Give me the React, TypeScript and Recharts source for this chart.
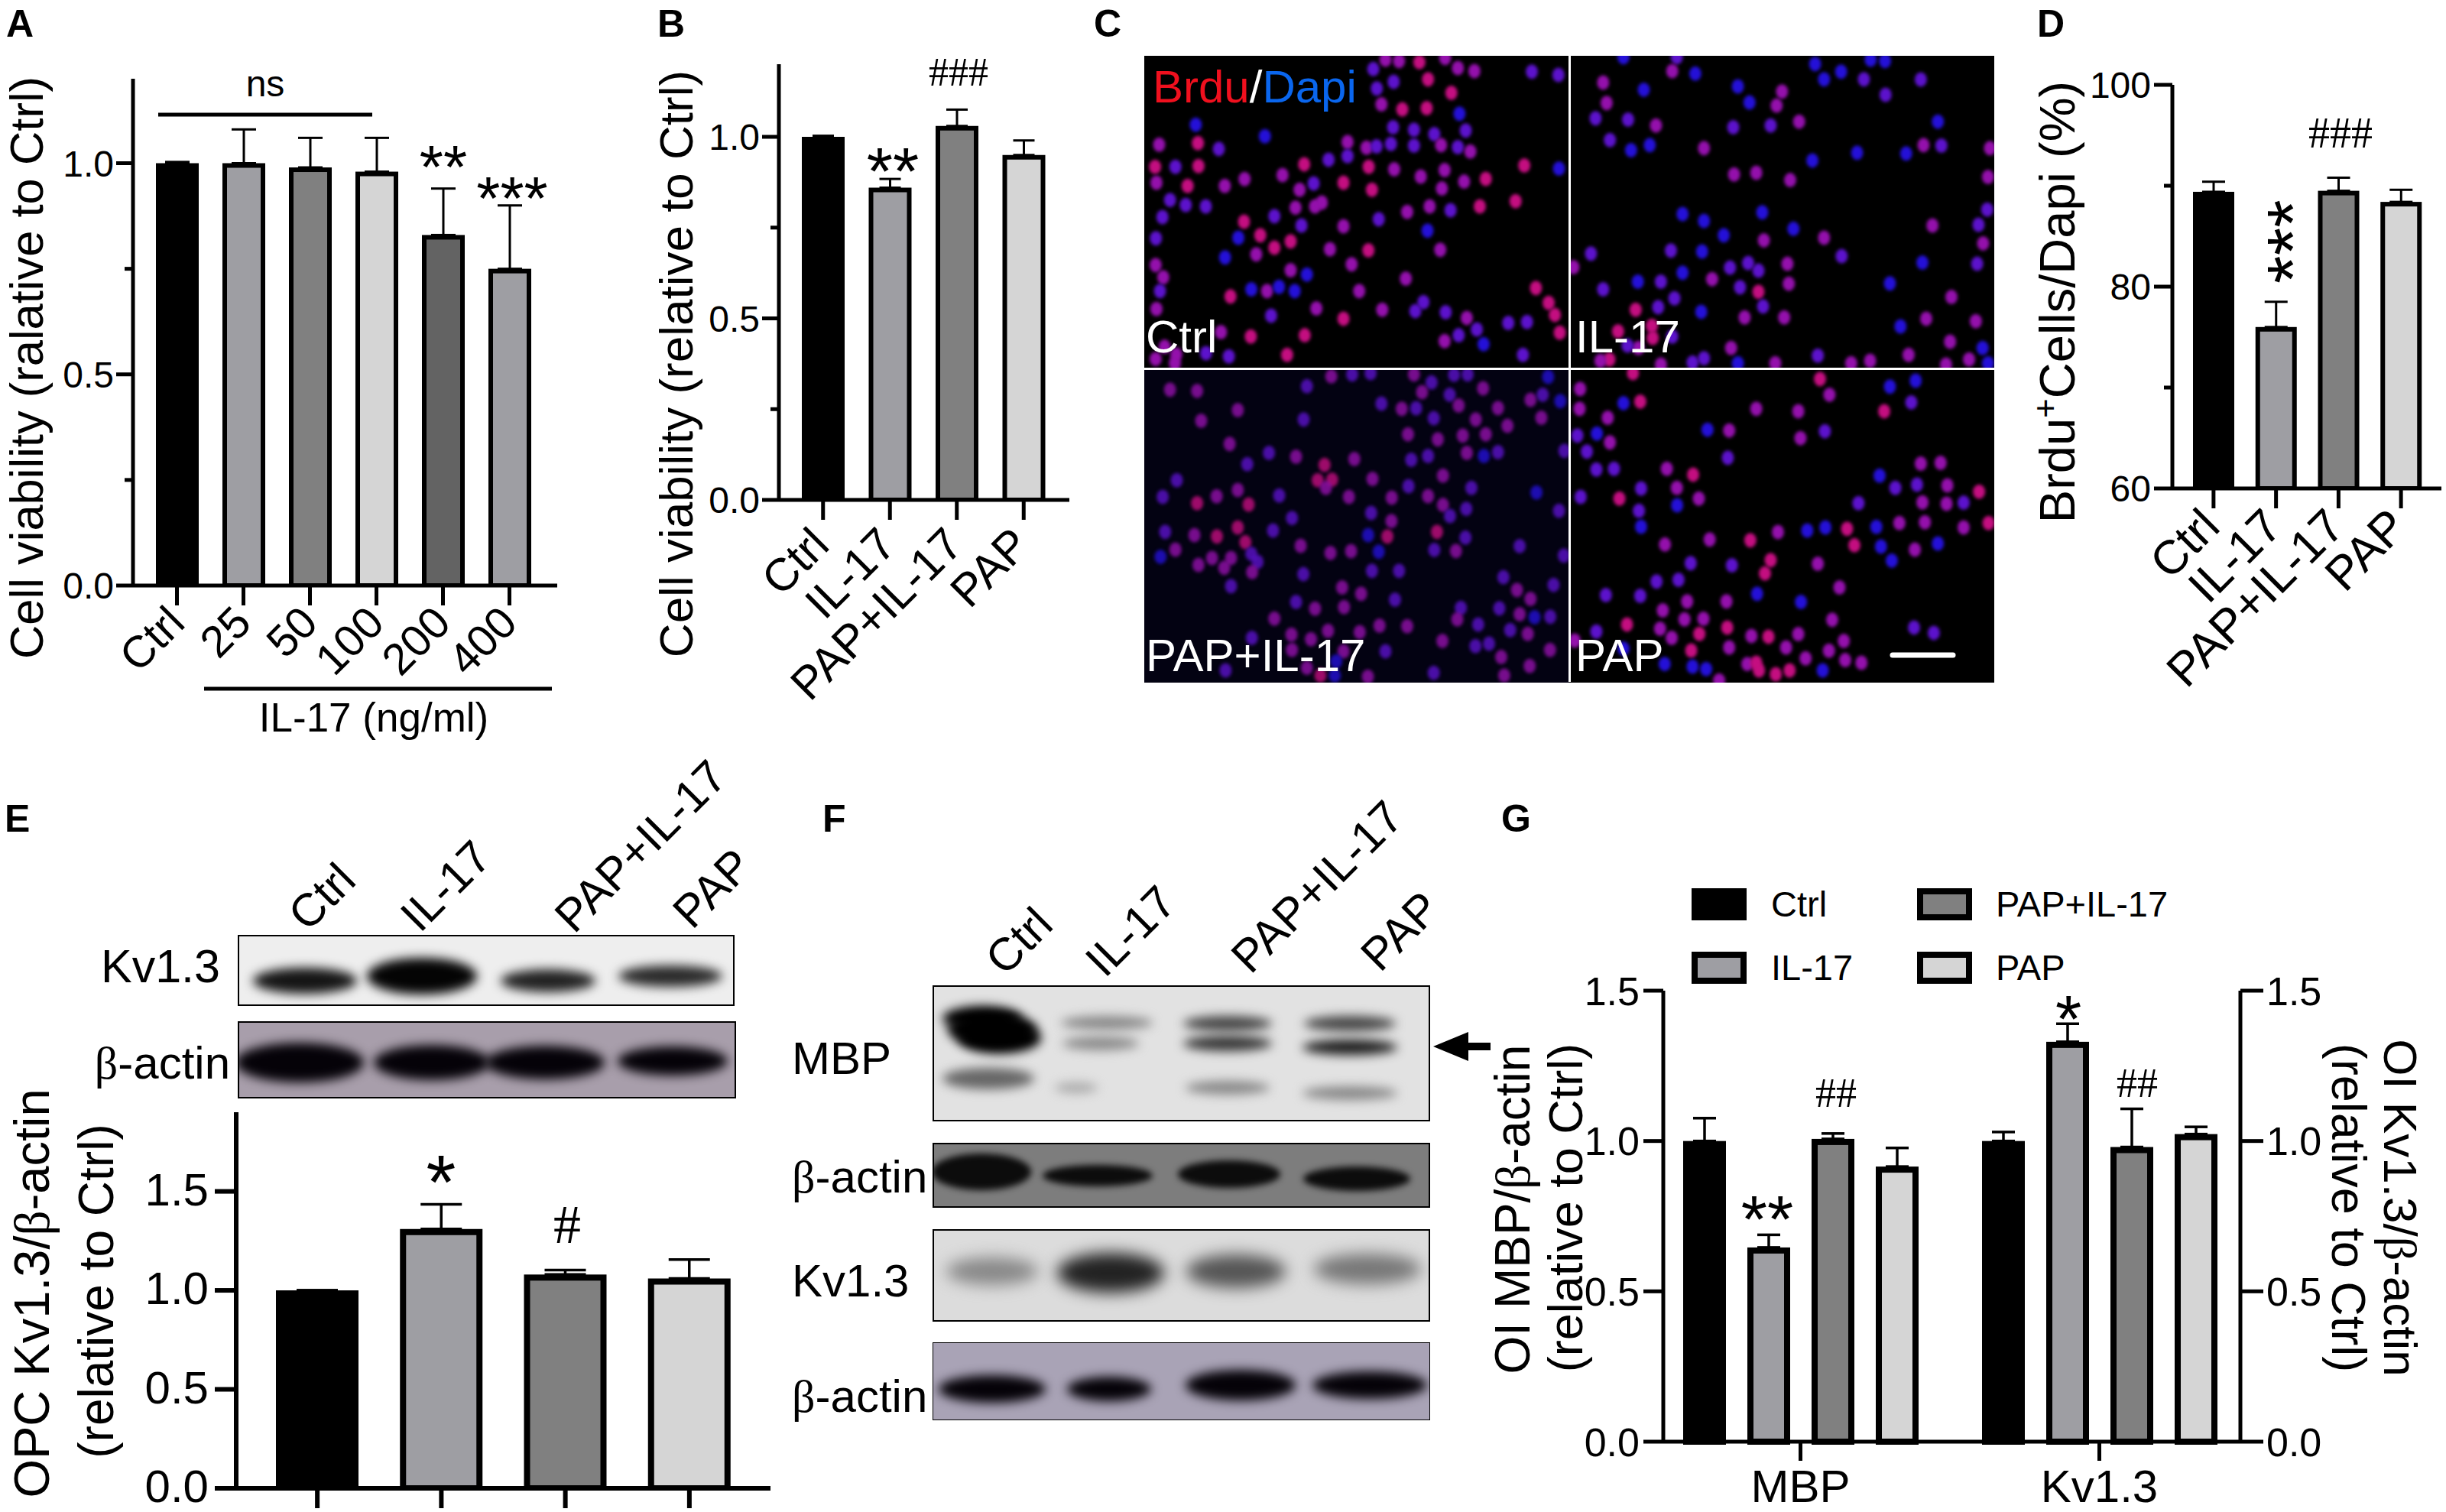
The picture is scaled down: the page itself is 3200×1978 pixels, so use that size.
import React from 'react';
import { BarChart, Bar, Cell, ErrorBar, XAxis, YAxis, ScatterChart, Scatter, ComposedChart, Line } from 'recharts';

const SANS = '"Liberation Sans", Arial, sans-serif';
const SERIF = '"Liberation Serif", "Times New Roman", serif';

// ---------- data ----------
const GROUP_NAMES = ['Ctrl', 'IL-17', 'PAP+IL-17', 'PAP'];
const DOSE_NAMES = ['Ctrl', '25', '50', '100', '200', '400'];

const A_VALUES = [1.0, 1.0, 0.99, 0.98, 0.83, 0.75];
const A_ERRORS = [0.003, 0.08, 0.07, 0.08, 0.11, 0.15];
const B_VALUES = [1.0, 0.86, 1.03, 0.95];
const B_ERRORS = [0.003, 0.024, 0.045, 0.04];
const D_VALUES = [89.4, 76, 89.5, 88.4];
const D_ERRORS = [1.0, 2.5, 1.3, 1.2];
const E_VALUES = [1.0, 1.31, 1.08, 1.06];
const E_ERRORS = [0, 0.125, 0.023, 0.096];
const G_CATEGORIES = ['MBP', 'Kv1.3'];
const G_MBP_VALUES = [1.0, 0.646, 1.007, 0.915];
const G_MBP_ERRORS = [0.076, 0.042, 0.018, 0.062];
const G_KV_VALUES = [1.0, 1.33, 0.98, 1.023];
const G_KV_ERRORS = [0.03, 0.06, 0.127, 0.024];

const A_TICKS = [0, 0.25, 0.5, 0.75, 1];
const A_MAJOR = [0, 0.5, 1];
const D_TICKS = [60, 70, 80, 90, 100];
const D_MAJOR = [60, 80, 100];
const E_TICKS = [0, 0.5, 1, 1.5];
const G_TICKS = [0, 0.5, 1, 1.5];

const BLACK = '#000000';
const MID = '#9e9ea3';
const DARK = '#808080';
const LIGHT = '#d5d5d5';
const DEEP = '#636363';
const DOSE_FILLS = [BLACK, MID, DARK, LIGHT, DEEP, MID];
const GROUP_FILLS = [BLACK, MID, DARK, LIGHT];

// Nuclei positions as read from each microscopy field, [x, y, tone]
const FIELD_CTRL = [[845,52,2],[890,15,1],[940,20,1],[1015,25,0],[1110,8,1],[1157,48,1],[1218,60,1],[1430,62,2],[1528,75,2],[920,102,2],[1047,92,0],[858,128,2],[1133,145,0],[875,190,1],[952,210,0],[1042,205,0],[1163,227,3],[190,270,3],[445,315,3],[918,280,2],[995,290,2],[1070,307,2],[1186,293,2],[55,348,1],[198,342,0],[275,365,2],[750,338,1],[820,360,1],[857,355,2],[910,345,2],[995,352,2],[1095,350,1],[1157,358,2],[1203,375,1],[750,393,2],[680,407,2],[590,425,0],[40,435,0],[115,435,2],[200,432,0],[828,435,0],[922,445,1],[1108,448,1],[1402,430,0],[1530,442,3],[510,467,1],[370,483,1],[45,497,1],[160,510,0],[297,510,1],[735,497,0],[1020,473,1],[1260,482,0],[1180,493,1],[625,500,2],[573,525,1],[840,525,0],[1098,520,1],[95,565,2],[153,585,2],[227,590,2],[558,595,1],[630,590,1],[655,575,1],[1238,590,0],[1370,570,0],[1053,590,1],[1130,605,2],[970,612,1],[67,632,2],[480,628,2],[368,650,0],[865,640,2],[580,665,2],[735,668,1],[1045,685,3],[43,715,2],[347,713,3],[428,703,0],[540,727,0],[480,752,0],[413,778,1],[685,758,1],[827,762,0],[1092,760,1],[298,790,3],[42,820,1],[765,817,1],[540,840,1],[600,857,3],[70,868,1],[965,873,1],[1445,910,0],[58,922,2],[395,915,3],[453,922,1],[497,905,3],[555,922,3],[793,922,1],[318,943,0],[1030,965,2],[1492,968,0],[45,992,1],[635,990,1],[468,1018,2],[878,995,1],[1000,1000,2],[1112,1005,2],[1515,1015,0],[735,1030,0],[1190,1027,1],[1343,1047,2],[1412,1043,2],[1533,1085,0],[283,1083,1],[393,1100,0],[592,1095,0],[1227,1072,2],[1160,1095,2],[1108,1118,1],[1252,1130,3],[75,1140,1],[118,1170,1],[228,1165,2],[312,1178,2],[527,1172,0],[42,1188,1],[113,1205,1],[1397,1172,2]];
const FIELD_IL17 = [[200,5,3],[397,5,2],[380,60,1],[465,70,3],[907,32,3],[1112,15,3],[1165,20,3],[1003,62,3],[940,92,3],[1087,92,2],[1297,93,2],[125,105,1],[275,133,3],[622,120,3],[785,140,1],[1167,153,2],[138,185,1],[665,183,3],[765,195,1],[97,245,2],[217,250,2],[320,273,1],[605,280,2],[743,273,2],[848,258,1],[1360,258,3],[150,330,2],[297,350,3],[228,370,3],[497,362,1],[1307,350,1],[1373,352,2],[1243,383,3],[1552,362,1],[1062,380,3],[897,410,3],[608,465,1],[690,458,1],[815,487,1],[1545,475,1],[1542,603,2],[712,613,3],[418,620,3],[497,647,3],[1340,665,1],[1510,662,2],[827,678,3],[570,703,3],[940,713,1],[718,723,1],[1527,735,1],[375,763,2],[490,767,3],[80,775,2],[1005,785,2],[1505,815,2],[1303,810,3],[805,815,1],[660,812,2],[593,830,2],[698,842,2],[15,828,1],[418,850,3],[527,875,1],[338,885,2],[253,885,3],[1183,892,3],[810,893,1],[125,915,2],[630,907,2],[698,925,0],[388,950,2],[1410,945,1],[245,995,0],[328,985,2],[715,982,2],[487,1003,3],[647,1025,1],[793,1025,1],[1317,1030,1],[1500,1040,1],[1222,1060,3],[180,1080,0],[305,1058,0],[308,1105,0],[1405,1120,1],[597,1145,1],[1525,1145,3],[917,1175,2],[1252,1172,1],[1475,1190,1],[255,1145,1],[215,1135,2],[380,1100,2],[148,1190,0],[115,1195,1],[455,1202,2],[497,1185,2],[622,1205,3],[760,1205,1],[1040,1205,1],[1110,1195,1],[338,1210,1],[1390,1210,1],[1545,1205,3]];
const FIELD_PAPIL = [[95,80,1],[195,85,1],[600,67,2],[690,28,1],[767,20,2],[835,15,2],[995,20,1],[1060,52,2],[1143,22,2],[1193,20,2],[1250,75,1],[1025,90,1],[1127,100,2],[1425,120,1],[1470,100,2],[1535,125,3],[1490,30,3],[345,160,1],[875,135,2],[950,155,1],[1003,153,2],[1160,142,1],[1305,152,1],[210,202,1],[588,197,2],[1068,192,2],[1223,197,1],[1465,190,1],[1340,222,1],[973,255,1],[1083,275,1],[1175,260,1],[1260,255,1],[315,293,1],[460,328,2],[560,343,1],[1190,328,1],[1253,340,3],[1305,325,2],[1047,340,2],[985,355,2],[775,352,1],[1550,320,2],[380,372,2],[665,375,0],[640,435,0],[693,433,0],[670,465,1],[120,435,2],[842,430,1],[1102,417,1],[975,458,2],[1207,465,2],[345,473,1],[498,495,2],[68,500,2],[267,498,1],[1047,497,1],[1447,483,3],[195,525,0],[755,500,1],[913,503,1],[385,530,0],[1102,532,1],[1188,547,2],[1530,555,2],[837,563,2],[545,583,2],[1128,575,2],[912,595,1],[345,620,0],[475,632,2],[77,637,2],[185,650,1],[268,655,0],[1080,637,0],[826,650,3],[897,655,0],[1185,660,2],[373,678,0],[577,692,1],[1385,693,2],[115,707,1],[687,720,1],[763,713,1],[1070,708,2],[1150,712,1],[60,735,3],[865,715,3],[395,723,2],[418,755,2],[250,740,1],[320,740,1],[1548,730,2],[200,767,1],[295,778,1],[398,795,1],[840,790,2],[940,790,2],[587,803,2],[1325,815,2],[320,850,2],[1510,845,2],[730,855,1],[1375,865,1],[800,880,1],[925,903,2],[560,912,2],[1425,900,1],[630,938,1],[737,932,1],[1168,935,2],[1310,937,2],[1385,960,1],[1440,972,3],[1498,970,2],[480,977,1],[1155,980,1],[1232,1000,2],[868,1005,1],[970,1007,1],[1350,1022,2],[1415,1037,1],[795,1030,1],[678,1025,1],[543,1040,1],[397,1053,2],[615,1058,1],[1100,1065,1],[1272,1075,2],[1222,1085,2],[545,1100,1],[1497,1100,1],[890,1105,2],[735,1105,1],[1317,1128,1],[1422,1163,1],[708,1145,3],[600,1170,1],[650,1200,0],[703,1200,3],[825,1205,1],[300,1180,2],[1068,1190,2],[1328,1200,1]];
const FIELD_PAP = [[235,15,0],[925,38,0],[1278,45,3],[1183,68,3],[40,77,1],[960,100,1],[262,127,0],[200,133,3],[1262,130,2],[38,155,1],[690,155,1],[845,165,1],[1162,165,0],[142,190,1],[510,237,3],[590,240,1],[943,243,2],[102,252,3],[30,260,2],[853,270,1],[150,287,1],[65,323,2],[585,347,2],[1297,370,1],[1370,367,1],[360,390,1],[100,393,2],[165,390,2],[457,413,0],[1145,417,3],[1283,452,2],[1395,455,1],[1203,465,2],[265,467,2],[397,465,1],[1512,480,0],[42,500,2],[185,507,0],[478,507,1],[1067,525,2],[398,533,3],[1303,522,1],[1392,527,1],[1455,523,2],[257,555,2],[265,617,3],[1218,603,1],[1312,600,1],[1547,603,0],[1455,620,1],[770,638,1],[878,632,3],[945,620,3],[1025,625,0],[1133,618,3],[518,667,1],[668,670,0],[1052,690,0],[1150,695,3],[1360,683,3],[353,687,1],[1275,707,1],[743,748,0],[1190,750,3],[448,760,2],[600,768,2],[917,762,1],[722,800,0],[322,832,2],[403,825,2],[997,855,1],[135,885,2],[262,888,2],[693,880,3],[435,910,1],[580,910,1],[855,912,3],[345,945,1],[425,980,1],[495,978,1],[970,982,1],[213,1000,0],[335,1017,1],[583,1012,0],[480,1037,0],[100,1028,2],[1272,1012,2],[1345,1033,2],[672,1045,1],[735,1048,0],[845,1038,1],[378,1053,1],[1013,1065,1],[20,1063,1],[800,1090,1],[590,1090,1],[450,1102,0],[958,1103,1],[200,1095,3],[872,1133,1],[1018,1140,1],[1078,1150,1],[352,1155,3],[455,1165,3],[505,1175,3],[657,1155,1],[690,1150,0],[700,1180,0],[762,1195,0],[813,1180,0],[935,1180,3],[553,1220,1]];
const NUCLEUS_TONES = ['#c40e80', '#9410ac', '#5c12cc', '#2410d8'];

// ---------- text helper ----------
function T({ x, y, size, anchor = 'start', rot = 0, weight = 'normal', fill = '#000', family = SANS, children }: any) {
  const parts = typeof children === 'string' ? children.split(/(β)/) : [children];
  return (
    <text x={x} y={y} fontSize={size} textAnchor={anchor} fontWeight={weight} fill={fill} fontFamily={family}
      transform={rot ? `rotate(${rot} ${x} ${y})` : undefined}>
      {parts.map((p: any, i: number) => p === 'β' ? <tspan key={i} fontFamily={SERIF}>β</tspan> : <tspan key={i}>{p}</tspan>)}
    </text>
  );
}

// ---------- ticks ----------
const yTick = (major: number[], fmt: (v: number) => string, o: any) => (p: any) => {
  const { x, y, payload } = p;
  const isMajor = major.includes(payload.value);
  const sign = o.right ? 1 : -1;
  const len = isMajor ? o.major : o.minor;
  return (
    <g>
      <line x1={x} x2={x + sign * len} y1={y} y2={y} stroke="#000" strokeWidth={o.sw} />
      {isMajor && (
        <text x={x + sign * o.gap} y={y + o.size * (o.lift || 0.36)} fontSize={o.size} fontFamily={SANS} fill="#000"
          textAnchor={o.right ? 'start' : 'end'}>{fmt(payload.value)}</text>
      )}
    </g>
  );
};

const xTick = (o: any) => (p: any) => {
  const { x, y, payload } = p;
  const ax = x + (o.dx || 0);
  const ay = y + (o.dy || 0);
  return (
    <g>
      <line x1={x} x2={x} y1={y} y2={y + o.len} stroke="#000" strokeWidth={o.sw} />
      {o.size && (
        <text x={ax} y={ay} fontSize={o.size} fontFamily={SANS} fill="#000" textAnchor={o.rot ? 'end' : 'middle'}
          transform={o.rot ? `rotate(${o.rot} ${ax} ${ay})` : undefined}>{payload.value}</text>
      )}
    </g>
  );
};

// Outlined bar whose stroke sits inside the bar's own extent
const insetBar = (sw: number, fillAt: (i: number) => string) => (p: any) => (
  <rect x={p.x + sw / 2} y={p.y + sw / 2} width={Math.max(p.width - sw, 0)} height={Math.max(p.height - sw / 2, 0)}
    fill={fillAt(p.index)} stroke="#000" strokeWidth={sw} />
);

// ---------- single-series bar panel ----------
function BarPanel({ box, plot, names, values, errors, fills, domain, ticks, major, fmt, yOpt, xOpt, pad, barSize, sw, capW, capSw }: any) {
  const [l, t, w, h] = box;
  const [pl, pr, pt, pb] = plot;
  const rows = names.map((name: string, i: number) => ({ name, value: values[i], err: errors[i] }));
  return (
    <div style={{ position: 'absolute', left: l, top: t, width: w, height: h }}>
      <BarChart width={w} height={h} data={rows} margin={{ left: pl - l - 1, right: l + w - pr, top: pt - t, bottom: t + h - pb - 1 }}>
        <Bar dataKey="value" barSize={barSize} isAnimationActive={false} shape={insetBar(sw, (i) => fills[i])}>
          {rows.map((r: any, i: number) => <Cell key={r.name} fill={fills[i]} />)}
          <ErrorBar dataKey={(d: any) => [0, d.err]} width={capW} strokeWidth={capSw} stroke="#000" isAnimationActive={false} />
        </Bar>
        <XAxis dataKey="name" height={1} padding={pad} interval={0} tickSize={0} tickMargin={0} tickLine={false}
          axisLine={{ stroke: '#000', strokeWidth: yOpt.sw }} tick={xTick(xOpt)} />
        <YAxis width={1} domain={domain} ticks={ticks} interval={0} tickSize={0} tickMargin={0} tickLine={false} allowDataOverflow
          axisLine={{ stroke: '#000', strokeWidth: yOpt.sw }} tick={yTick(major, fmt, yOpt)} />
      </BarChart>
    </div>
  );
}

// ---------- grouped, two-axis panel G ----------
function PanelG() {
  const box = [2040, 1250, 1030, 728];
  const [l, t, w, h] = box;
  const [pl, pr, pt, pb] = [2176, 2931, 1296, 1886];
  const rows = [
    { name: G_CATEGORIES[0], values: G_MBP_VALUES, errors: G_MBP_ERRORS },
    { name: G_CATEGORIES[1], values: G_KV_VALUES, errors: G_KV_ERRORS },
  ].map((g) => {
    const o: any = { name: g.name, errors: g.errors };
    GROUP_NAMES.forEach((n, i) => { o[n] = g.values[i]; });
    return o;
  });
  const yOptL = { major: 26, minor: 26, sw: 5, gap: 31, size: 52 };
  const yOptR = { major: 30, minor: 30, sw: 5, gap: 34, size: 52, right: true };
  const fmt = (v: number) => v.toFixed(1);
  return (
    <div style={{ position: 'absolute', left: l, top: t, width: w, height: h }}>
      <ComposedChart width={w} height={h} data={rows} barSize={56} barGap={28}
        margin={{ left: pl - l - 1, right: l + w - pr - 1, top: pt - t, bottom: t + h - pb - 1 }}>
        {GROUP_NAMES.map((n, i) => (
          <Bar key={n} yAxisId="left" dataKey={n} fill={GROUP_FILLS[i]} isAnimationActive={false} shape={insetBar(8, () => GROUP_FILLS[i])}>
            <ErrorBar dataKey={(d: any) => [0, d.errors[i]]} width={15} strokeWidth={3.5} stroke="#000" isAnimationActive={false} />
          </Bar>
        ))}
        <Line yAxisId="right" dataKey={GROUP_NAMES[3]} stroke="none" dot={false} activeDot={false} legendType="none" isAnimationActive={false} />
        <XAxis dataKey="name" height={1} padding={{ left: -16, right: -11 }} interval={0} tickSize={0} tickMargin={0} tickLine={false}
          axisLine={{ stroke: '#000', strokeWidth: 5 }} tick={xTick({ len: 25, sw: 5, size: 60, dy: 79 })} />
        <YAxis yAxisId="left" width={1} domain={[0, 1.5]} ticks={G_TICKS} interval={0} tickSize={0} tickMargin={0} tickLine={false}
          axisLine={{ stroke: '#000', strokeWidth: 5 }} tick={yTick(G_TICKS, fmt, yOptL)} />
        <YAxis yAxisId="right" orientation="right" width={1} domain={[0, 1.5]} ticks={G_TICKS} interval={0} tickSize={0} tickMargin={0} tickLine={false}
          axisLine={{ stroke: '#000', strokeWidth: 5 }} tick={yTick(G_TICKS, fmt, yOptR)} />
      </ComposedChart>
    </div>
  );
}

// ---------- microscopy ----------
function Field({ left, top, points, bg = '#000', opacity = 1 }: any) {
  const rows = points.map(([x, y, c]: number[]) => ({ x, y, c }));
  const shape = (p: any) => (
    <ellipse cx={p.cx} cy={p.cy} rx={8} ry={9.5} fill={NUCLEUS_TONES[p.payload.c]} opacity={opacity} style={{ filter: 'blur(2.2px)' }} />
  );
  return (
    <div style={{ position: 'absolute', left, top, width: 556, height: 410, background: bg }}>
      <ScatterChart width={556} height={410} margin={{ left: 0, right: 0, top: 0, bottom: 0 }}>
        <XAxis type="number" dataKey="x" domain={[0, 1568]} hide />
        <YAxis type="number" dataKey="y" domain={[0, 1228]} reversed hide />
        <Scatter data={rows} dataKey="y" shape={shape} isAnimationActive={false} />
      </ScatterChart>
    </div>
  );
}

// ---------- blots ----------
function Blot({ x, y, w, h, bg, border = 4, bands, blur = 7 }: any) {
  return (
    <svg x={x} y={y} width={w} height={h} viewBox={`${x} ${y} ${w} ${h}`}>
      <rect x={x} y={y} width={w} height={h} fill={bg} />
      {bands.map((b: any, i: number) => (
        <ellipse key={i} cx={b[0]} cy={b[1]} rx={b[2]} ry={b[3]} fill={b[4]} style={{ filter: `blur(${blur}px)` }} />
      ))}
      <rect x={x} y={y} width={w} height={h} fill="none" stroke="#000" strokeWidth={border} />
    </svg>
  );
}

const BLOT_E_KV = [[399, 1283, 68, 17, '#151515'], [552, 1277, 72, 24, '#040404'], [717, 1283, 62, 15, '#222'], [877, 1277, 68, 14, '#2a2a2a']];
const BLOT_E_ACT = [[392, 1390, 84, 26, '#050208'], [565, 1390, 76, 23, '#050208'], [713, 1390, 78, 22, '#050208'], [880, 1388, 72, 19, '#050208']];
const BLOT_F_MBP = [[1285, 1332, 52, 16, '#000'], [1308, 1358, 54, 20, '#000'], [1298, 1347, 58, 22, '#000'], [1293, 1411, 60, 14, '#666'], [1448, 1338, 60, 9, '#888'], [1440, 1365, 50, 9, '#8a8a8a'], [1408, 1423, 28, 7, '#aaa'], [1606, 1339, 58, 10, '#444'], [1606, 1365, 58, 10, '#333'], [1606, 1423, 55, 9, '#888'], [1766, 1339, 60, 10, '#444'], [1766, 1370, 62, 10, '#1a1a1a'], [1766, 1430, 62, 9, '#888']];
const BLOT_F_ACT1 = [[1284, 1533, 65, 24, '#0c0c0c'], [1436, 1538, 72, 14, '#0c0c0c'], [1608, 1536, 67, 18, '#0c0c0c'], [1775, 1542, 70, 16, '#0c0c0c']];
const BLOT_F_KV = [[1298, 1663, 60, 18, '#888'], [1453, 1665, 70, 26, '#222'], [1617, 1663, 65, 22, '#555'], [1789, 1660, 70, 20, '#777']];
const BLOT_F_ACT2 = [[1298, 1817, 70, 18, '#050208'], [1451, 1817, 55, 16, '#050208'], [1623, 1812, 72, 20, '#050208'], [1792, 1812, 75, 18, '#050208']];

// ---------- overlay helpers ----------
const star = (cx: number, cy: number, s: string, size: number, rot = 0) => (
  <g transform={rot ? `rotate(${rot} ${cx} ${cy})` : undefined}>
    <text x={cx} y={cy + size * 0.57} fontSize={size} fontFamily={SANS} textAnchor="middle" fill="#000">{s}</text>
  </g>
);
const hash = (cx: number, cy: number, s: string, size: number) => (
  <text x={cx} y={cy + size * 0.33} fontSize={size} fontFamily={SERIF} textAnchor="middle" fill="#000">{s}</text>
);
const sample = (cx: number, cy: number, s: string, size = 60) => (
  <text x={cx} y={cy} fontSize={size} fontFamily={SANS} textAnchor="middle" dominantBaseline="central" fill="#000"
    transform={`rotate(-45 ${cx} ${cy})`}>{s}</text>
);

function Overlay() {
  const legend = [
    { n: GROUP_NAMES[0], f: GROUP_FILLS[0], x: 2213, y: 1162 },
    { n: GROUP_NAMES[1], f: GROUP_FILLS[1], x: 2213, y: 1245 },
    { n: GROUP_NAMES[2], f: GROUP_FILLS[2], x: 2508, y: 1162 },
    { n: GROUP_NAMES[3], f: GROUP_FILLS[3], x: 2508, y: 1245 },
  ];
  return (
    <svg width={3200} height={1978} style={{ position: 'absolute', left: 0, top: 0, pointerEvents: 'none' }}>
      {/* panel letters */}
      {[['A', 8, 48], ['B', 860, 48], ['C', 1431, 48], ['D', 2665, 48], ['E', 6, 1088], ['F', 1076, 1088], ['G', 1964, 1088]].map(([s, x, y]: any) => (
        <T key={s} x={x} y={y} size={50} weight="bold">{s}</T>
      ))}

      {/* panel A */}
      <T x={56} y={481} size={61.5} anchor="middle" rot={-90}>Cell viability (ralative to Ctrl)</T>
      <T x={347} y={126} size={48} anchor="middle">ns</T>
      <line x1={207} x2={487} y1={150} y2={150} stroke="#000" strokeWidth={5} />
      <line x1={267} x2={722} y1={901} y2={901} stroke="#000" strokeWidth={5} />
      <T x={489} y={957} size={53} anchor="middle">IL-17 (ng/ml)</T>
      {star(580, 200, '**', 80)}
      {star(670, 241, '***', 80)}

      {/* panel B */}
      <T x={906} y={476} size={62} anchor="middle" rot={-90}>Cell viability (relative to Ctrl)</T>
      {star(1168, 204, '**', 88)}
      {hash(1254, 95, '###', 52)}

      {/* panel C */}
      <rect x={2052} y={73} width={3} height={819} fill="#fff" />
      <rect x={1497} y={481} width={1115} height={3} fill="#fff" />
      <text x={1508} y={134} fontSize={60} fontFamily={SANS}>
        <tspan fill="#f0101e">Brdu</tspan><tspan fill="#fff">/</tspan><tspan fill="#0a66ee">Dapi</tspan>
      </text>
      <T x={1499} y={461} size={60} fill="#fff">Ctrl</T>
      <T x={2061} y={461} size={60} fill="#fff">IL-17</T>
      <T x={1499} y={878} size={60} fill="#fff">PAP+IL-17</T>
      <T x={2061} y={878} size={60} fill="#fff">PAP</T>
      <line x1={2476} x2={2555} y1={857} y2={857} stroke="#fff" strokeWidth={7} strokeLinecap="round" />

      {/* panel D */}
      <text x={2714} y={395} fontSize={65} fontFamily={SANS} textAnchor="middle" transform="rotate(-90 2714 395)">
        Brdu<tspan fontSize={44} dy={-23}>+</tspan><tspan dy={23}>Cells/Dapi (%)</tspan>
      </text>
      {star(2978, 316, '***', 94, -90)}
      {hash(3062, 175, '###', 56)}

      {/* panel E */}
      {sample(421, 1173, 'Ctrl')}
      {sample(583, 1159, 'IL-17')}
      {sample(838, 1107, 'PAP+IL-17')}
      {sample(932, 1162, 'PAP')}
      <T x={288} y={1285} size={61} anchor="end">Kv1.3</T>
      <T x={301} y={1411} size={60} anchor="end">β-actin</T>
      <Blot x={311} y={1223} w={650} h={93} bg="#eeeeee" bands={BLOT_E_KV} />
      <Blot x={311} y={1336} w={652} h={101} bg="#a89eab" bands={BLOT_E_ACT} />
      <T x={64} y={1692} size={65} anchor="middle" rot={-90}>OPC Kv1.3/β-actin</T>
      <T x={148} y={1689} size={64} anchor="middle" rot={-90}>(relative to Ctrl)</T>
      {star(577, 1524, '*', 100)}
      {hash(742, 1602, '#', 72)}

      {/* panel F */}
      {sample(1333, 1231, 'Ctrl')}
      {sample(1479, 1218, 'IL-17')}
      {sample(1723, 1160, 'PAP+IL-17')}
      {sample(1832, 1218, 'PAP')}
      <T x={1036} y={1405} size={60}>MBP</T>
      <T x={1036} y={1560} size={60}>β-actin</T>
      <T x={1036} y={1696} size={60}>Kv1.3</T>
      <T x={1036} y={1847} size={60}>β-actin</T>
      <Blot x={1220} y={1289} w={651} h={178} bg="#e2e2e2" bands={BLOT_F_MBP} />
      <Blot x={1220} y={1495} w={651} h={85} bg="#7d7d7d" bands={BLOT_F_ACT1} blur={4} />
      <Blot x={1220} y={1608} w={651} h={121} bg="#dcdcdc" bands={BLOT_F_KV} blur={10} />
      <Blot x={1220} y={1756} w={651} h={102} bg="#a9a3b6" bands={BLOT_F_ACT2} border={2} />
      <polygon points="1875,1369 1921,1350 1921,1388" fill="#000" />
      <rect x={1915} y={1364} width={35} height={10} fill="#000" />

      {/* panel G */}
      <T x={2001} y={1582} size={64} anchor="middle" rot={-90}>OI MBP/β-actin</T>
      <T x={2070} y={1580} size={63} anchor="middle" rot={-90}>(relative to Ctrl)</T>
      <T x={3119} y={1580} size={62} anchor="middle" rot={90}>OI Kv1.3/β-actin</T>
      <T x={3051} y={1580} size={63} anchor="middle" rot={90}>(relative to Ctrl)</T>
      {legend.map((e) => (
        <g key={e.n}>
          <rect x={e.x + 4} y={e.y + 4} width={64} height={34} fill={e.f} stroke="#000" strokeWidth={8} />
          <T x={e.x + (e.x < 2400 ? 104 : 103)} y={e.y + 37} size={47}>{e.n}</T>
        </g>
      ))}
      {star(2312, 1575, '**', 88)}
      {star(2706, 1313, '*', 88)}
      {hash(2402, 1430, '##', 54)}
      {hash(2796, 1417, '##', 54)}
    </svg>
  );
}

const FMT1 = (v: number) => v.toFixed(1);
const FMT0 = (v: number) => String(v);

export default function App() {
  return (
    <div style={{ position: 'absolute', left: 0, top: 0, width: 3200, height: 1978, background: '#fff', overflow: 'hidden' }}>
      <BarPanel box={[60, 60, 700, 880]} plot={[174, 729, 103, 766]} names={DOSE_NAMES} values={A_VALUES} errors={A_ERRORS}
        fills={DOSE_FILLS} domain={[0, 1.2]} ticks={A_TICKS} major={A_MAJOR} fmt={FMT1}
        yOpt={{ major: 22, minor: 11, sw: 5, gap: 25, size: 48 }}
        xOpt={{ len: 26, sw: 5, size: 58, rot: -45, dx: 13, dy: 52 }}
        pad={{ left: 14, right: 19 }} barSize={56} sw={6} capW={16} capSw={3} />
      <BarPanel box={[900, 60, 510, 880]} plot={[1019, 1399, 84, 654]} names={GROUP_NAMES} values={B_VALUES} errors={B_ERRORS}
        fills={GROUP_FILLS} domain={[0, 1.2]} ticks={A_TICKS} major={A_MAJOR} fmt={FMT1}
        yOpt={{ major: 22, minor: 11, sw: 5, gap: 25, size: 48 }}
        xOpt={{ len: 26, sw: 5, size: 60, rot: -45, dx: 11, dy: 62 }}
        pad={{ left: 14, right: 16 }} barSize={56} sw={6} capW={14} capSw={3} />
      <Field left={1497} top={73} points={FIELD_CTRL} />
      <Field left={2053} top={73} points={FIELD_IL17} />
      <Field left={1497} top={483} points={FIELD_PAPIL} bg="#030212" opacity={0.8} />
      <Field left={2053} top={483} points={FIELD_PAP} />
      <BarPanel box={[2720, 60, 480, 910]} plot={[2842, 3194, 111, 639]} names={GROUP_NAMES} values={D_VALUES} errors={D_ERRORS}
        fills={GROUP_FILLS} domain={[60, 100]} ticks={D_TICKS} major={D_MAJOR} fmt={FMT0}
        yOpt={{ major: 24, minor: 11, sw: 5, gap: 28, size: 48 }}
        xOpt={{ len: 26, sw: 5, size: 62, rot: -45, dx: 11, dy: 53 }}
        pad={{ left: 13, right: 12 }} barSize={54} sw={6} capW={15} capSw={3} />
      <BarPanel box={[160, 1440, 860, 538]} plot={[309, 1008, 1455, 1947]} names={GROUP_NAMES} values={E_VALUES} errors={E_ERRORS}
        fills={GROUP_FILLS} domain={[0, 1.9]} ticks={E_TICKS} major={E_TICKS} fmt={FMT1}
        yOpt={{ major: 28, minor: 28, sw: 6, gap: 36, size: 60, lift: 0.3 }}
        xOpt={{ len: 26, sw: 6 }}
        pad={{ left: 25, right: 25 }} barSize={108} sw={8} capW={27} capSw={3.5} />
      <PanelG />
      <Overlay />
    </div>
  );
}
